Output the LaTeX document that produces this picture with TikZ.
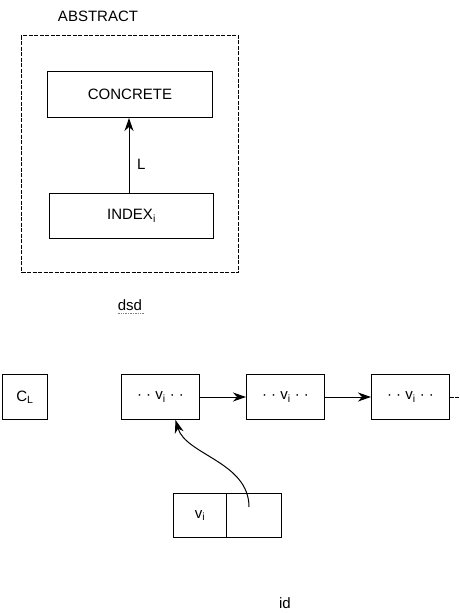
\documentclass[tikz,border=0pt]{standalone}
\usepackage{fontspec}
\setmainfont{Liberation Sans}
\usetikzlibrary{arrows.meta}
\tikzset{
  txt/.style={font=\fontsize{15}{17}\selectfont},
  box/.style={draw, line width=1pt, inner sep=0pt, anchor=north west, txt},
  lbl/.style={inner sep=0pt, txt},
  arr/.style={line width=1pt, -{Stealth[length=13pt,width=9pt,inset=4pt]}},
}
\begin{document}
\begin{tikzpicture}[x=1pt,y=-1pt]
\useasboundingbox (0,0) rectangle (459,613);
% top part
\node[lbl] (abstract) at (98,16) {ABSTRACT};
\node[box, dashed, dash pattern=on 4pt off 1.5pt, minimum width=217pt, minimum height=237pt] (outer) at (21,35) {};
\node[box, minimum width=165pt, minimum height=46pt] (concrete) at (47,71) {CONCRETE};
\node[box, minimum width=164pt, minimum height=45pt] (index) at (49,193) {INDEX\textsubscript{i}};
\draw[arr] (index.north -| 129,0) -- (concrete.south -| 129,0);
\node[lbl, anchor=west] (L) at (137,164) {L};
% bottom part
\node[lbl] (dsd) at (130,305) {dsd};
\draw[gray, line width=0.7pt, densely dotted] (dsd.south west) ++(0,3) -- ++(27,0);
\node[box, minimum width=45pt, minimum height=45pt] (cl) at (2,374) {C\textsubscript{L}};
\node[box, minimum width=78pt, minimum height=45pt] (b1) at (121,374) {· · v\textsubscript{i} · ·};
\node[box, minimum width=78pt, minimum height=45pt] (b2) at (246,374) {· · v\textsubscript{i} · ·};
\node[box, minimum width=78pt, minimum height=45pt] (b3) at (371,374) {· · v\textsubscript{i} · ·};
\coordinate (tail) at (459,397);
\draw[arr] (b1.east) -- (b2.west);
\draw[arr] (b2.east) -- (b3.west);
\draw[line width=1pt, dash pattern=on 4pt off 1pt] (b3.east) -- (tail);
\node[box, minimum width=53pt, minimum height=44pt] (pv) at (173,493) {v\textsubscript{i}};
\node[box, minimum width=55pt, minimum height=44pt] (pn) at (226,493) {};
\coordinate (start) at (249,507);
\draw[arr] (start) .. controls (249,462) and (186,455) .. ([xshift=15pt]b1.south);
\node[lbl] (id) at (285,603) {id};
\end{tikzpicture}
\end{document}
